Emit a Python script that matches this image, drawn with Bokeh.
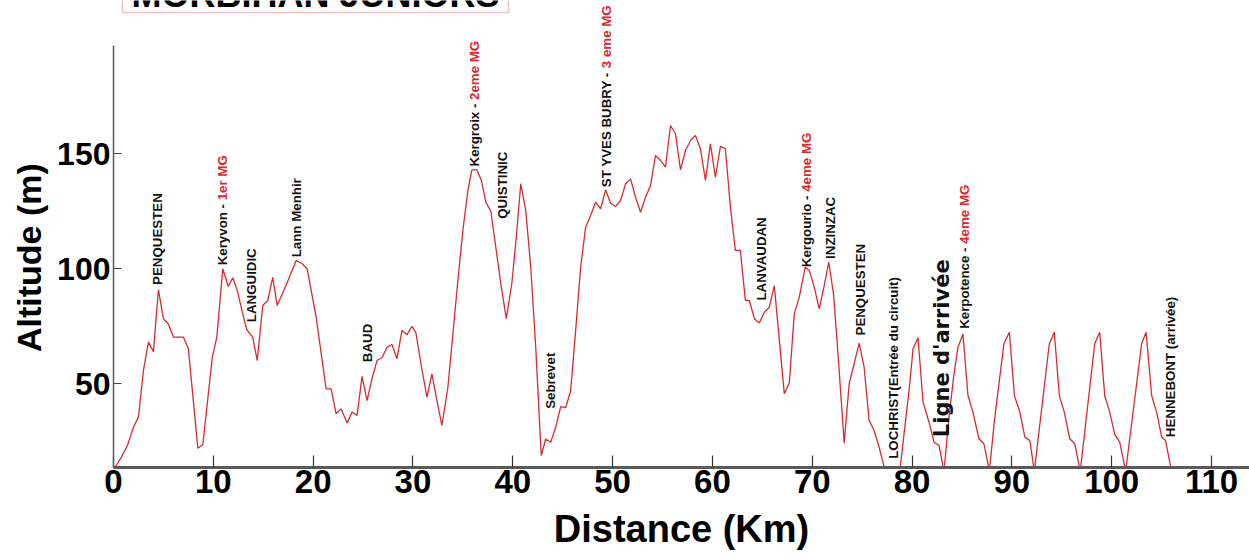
import math
from bokeh.plotting import figure
from bokeh.models import Range1d, FixedTicker, Label, BoxAnnotation
from bokeh.embed import file_html
from bokeh.resources import INLINE

# ---- elevation profile (km, metres) ----
km = [0, 0.7, 1.4, 2.0, 2.5, 3.0, 3.5, 4.0, 4.5, 5.0, 5.5, 6.0, 7.0, 7.5, 8.45, 8.95,
      9.9, 10.35, 10.95, 11.5, 11.95, 12.4, 12.95, 13.35, 13.95, 14.4, 14.95, 15.45,
      15.95, 16.4, 17.35, 18.3, 18.85, 19.4, 20.3, 21.3, 21.8, 22.3, 22.8, 23.4, 23.9,
      24.4, 24.9, 25.4, 25.9, 26.4, 26.9, 27.4, 27.9, 28.4, 28.9, 29.4, 29.9, 30.3,
      30.8, 31.4, 31.9, 32.4, 32.9, 33.5, 34.0, 34.5, 35.0, 35.5, 35.9, 36.4, 36.85,
      37.3, 37.8, 38.3, 38.8, 39.35, 39.9, 40.35, 40.8, 41.3, 41.8, 42.3, 42.85, 43.3,
      43.8, 44.3, 44.8, 45.3, 45.8, 46.3, 46.8, 47.3, 47.8, 48.3, 48.8, 49.3, 49.8,
      50.3, 50.8, 51.3, 51.8, 52.3, 52.8, 53.3, 53.8, 54.3, 54.8, 55.3, 55.8, 56.3,
      56.8, 57.3, 57.8, 58.3, 58.8, 59.3, 59.8, 60.3, 60.8, 61.3, 61.8, 62.3, 62.8,
      63.3, 63.7, 64.2, 64.7, 65.2, 65.7, 66.2, 67.2, 67.7, 68.2, 68.7, 69.3, 69.7,
      70.2, 70.7, 71.2, 71.65, 72.15, 72.65, 73.2, 73.7, 74.2, 74.7, 75.2, 75.7, 76.2,
      76.7, 77.2, 78.0, 78.8, 79.2, 79.7, 80.1, 80.6, 81.1, 81.7, 82.2, 82.7, 83.2,
      83.7, 84.2, 84.6, 85.1, 85.6, 86.1, 86.7, 87.2, 87.75, 88.25, 89.2, 89.75,
      90.25, 90.8, 91.3, 91.8, 92.25, 93.75, 94.25, 94.75, 95.25, 95.8, 96.3, 96.85,
      98.3, 98.8, 99.3, 99.8, 100.3, 100.8, 101.4, 103.0, 103.45, 104.0, 104.5, 105.0,
      105.4, 105.9]
alt = [12.6, 17.4, 23.2, 31.1, 35.5, 55.8, 68.1, 64.0, 90.9, 78.3, 76.0, 70.3, 70.3, 65.2,
       22.0, 23.6, 61.6, 70.3, 100.0, 92.3, 96.1, 90.6, 80.4, 73.5, 70.3, 60.1, 84.0, 86.2,
       96.3, 84.0, 93.5, 103.6, 102.4, 100.0, 79.0, 47.8, 47.8, 37.0, 39.1, 32.9, 37.7,
       36.2, 53.2, 42.7, 52.2, 60.1, 61.3, 65.9, 67.1, 60.9, 73.2, 71.4, 75.0, 72.0,
       58.7, 44.2, 54.3, 42.7, 31.9, 48.5, 71.7, 94.9, 116.7, 134.0, 143.0, 143.0, 138.5,
       129.0, 125.0, 109.4, 93.5, 78.3, 93.5, 113.7, 137.0, 125.3, 100.7, 65.9, 18.8, 26.0,
       24.6, 31.1, 40.1, 39.6, 47.1, 73.2, 100.7, 118.1, 123.2, 129.0, 126.1, 134.3, 128.5,
       127.1, 129.7, 137.0, 139.1, 131.1, 124.6, 131.1, 136.2, 149.3, 147.1, 144.2, 162.3,
       158.7, 143.0, 151.4, 155.8, 158.0, 152.2, 138.4, 154.3, 139.8, 153.2, 152.2, 126.8,
       108.0, 108.0, 86.2, 86.2, 78.3, 76.4, 81.1, 83.3, 92.7, 45.7, 50.3, 80.4, 87.7,
       100.7, 99.3, 92.0, 82.6, 92.7, 102.9, 88.4, 58.7, 24.2, 50.0, 58.7, 67.7, 57.2,
       34.0, 29.7, 22.4, 14.0, 11.0, 13.0, 28.3, 47.1, 65.2, 70.0, 42.0, 33.3, 24.6,
       23.2, 12.0, 35.5, 54.3, 65.9, 71.7, 44.9, 37.7, 26.1, 23.9, 12.0, 34.0, 67.4,
       72.4, 44.9, 37.7, 26.8, 25.3, 12.0, 67.4, 72.4, 44.9, 37.7, 26.1, 23.9, 12.0,
       67.4, 72.4, 44.9, 37.7, 28.0, 24.6, 12.0, 67.4, 72.4, 44.9, 37.7, 27.0, 25.3, 14.0]

x_ticks = [0, 10, 20, 30, 40, 50, 60, 70, 80, 90, 100, 110]
y_ticks = [50, 100, 150]
y_axis_top = 197

# ---- place names (black part, red part, km, altitude where the text starts) ----
place_black = ["PENQUESTEN", "Keryvon - ", "LANGUIDIC", "Lann Menhir", "BAUD",
               "Kergroix - ", "QUISTINIC", "Sebrevet", "ST YVES BUBRY - ", "LANVAUDAN",
               "Kergourio - ", "INZINZAC", "PENQUESTEN", "LOCHRIST(Entrée du circuit)",
               "Kerpotence - ", "HENNEBONT (arrivée)"]
place_red = ["", "1er MG", "", "", "", "2eme MG", "", "", "3 eme MG", "",
             "4eme MG", "", "", "", "4eme MG", ""]
place_km = [4.45, 10.95, 13.85, 18.3, 25.45, 36.2, 39.0, 43.8, 49.35, 64.95,
            69.45, 71.85, 74.8, 78.1, 85.3, 105.9]
place_alt = [93.0, 101.5, 76.8, 105.0, 59.4, 144.5, 121.7, 39.1, 135.5, 86.2,
             100.7, 104.3, 71.0, 17.4, 73.9, 26.8]

finish_text = "Ligne d'arrivée"
finish_km = 82.95
finish_alt = 26.8

title_text = "MORBIHAN JUNIORS"

# ---- layout ----
W, H = 1249, 559
BL, BR, BT, BB = 113, 0, 0, 92
PX_PER_KM = 9.982
PX_PER_M = 2.3
frame_w = W - BL - BR
frame_h = H - BT - BB
X0 = 0
X1 = X0 + frame_w / PX_PER_KM
Y0 = 13.6
Y1 = Y0 + frame_h / PX_PER_M

RED = "#e0262c"
LINE_RED = "#d92a2f"
FONT = "Liberation Sans"
NBSP = "\u00a0"

p = figure(width=W, height=H, x_range=Range1d(X0, X1), y_range=Range1d(Y0, Y1),
           output_backend="svg", toolbar_location=None,
           min_border_left=BL, min_border_right=BR, min_border_top=BT, min_border_bottom=BB)
p.outline_line_color = None
p.grid.visible = False
p.background_fill_color = "white"
p.border_fill_color = "white"

p.line(km, alt, line_color=LINE_RED, line_width=1.3)

# x axis
p.xaxis.ticker = FixedTicker(ticks=x_ticks, minor_ticks=[])
p.xaxis.axis_line_width = 3
p.xaxis.axis_line_color = "#5a5a5a"
p.xaxis.major_tick_in = 12
p.xaxis.major_tick_out = 0
p.xaxis.major_tick_line_color = "#333333"
p.xaxis.major_tick_line_width = 1.2
p.xaxis.minor_tick_line_color = None
p.xaxis.major_label_text_font = FONT
p.xaxis.major_label_text_font_style = "bold"
p.xaxis.major_label_text_font_size = "33px"
p.xaxis.major_label_text_color = "black"
p.xaxis.major_label_standoff = 2
p.xaxis.axis_label = "Distance (Km)"
p.xaxis.axis_label_text_font = FONT
p.xaxis.axis_label_text_font_style = "bold"
p.xaxis.axis_label_text_font_size = "38px"
p.xaxis.axis_label_text_color = "black"
p.xaxis.axis_label_standoff = 12

# y axis
p.yaxis.ticker = FixedTicker(ticks=y_ticks, minor_ticks=[])
p.yaxis.bounds = (Y0, y_axis_top)
p.yaxis.axis_line_width = 1.5
p.yaxis.axis_line_color = "#5a5a5a"
p.yaxis.major_tick_in = 8
p.yaxis.major_tick_out = 0
p.yaxis.major_tick_line_color = "#444444"
p.yaxis.minor_tick_line_color = None
p.yaxis.major_label_text_font = FONT
p.yaxis.major_label_text_font_style = "bold"
p.yaxis.major_label_text_font_size = "32px"
p.yaxis.major_label_text_color = "black"
p.yaxis.major_label_standoff = 3
# trailing no-break spaces move the centred label down, next to the drawn axis
p.yaxis.axis_label = "Altitude (m)" + NBSP * 5
p.yaxis.axis_label_text_font = FONT
p.yaxis.axis_label_text_font_style = "bold"
p.yaxis.axis_label_text_font_size = "34px"
p.yaxis.axis_label_text_color = "black"
p.yaxis.axis_label_standoff = 6

# Helvetica-Bold / Liberation Sans Bold advance widths (per 1000 em)
HB = dict(zip("abcdefghijklmnopqrstuvwxyz",
              [556, 611, 556, 611, 556, 333, 611, 611, 278, 278, 556, 278, 889, 611, 611,
               611, 611, 389, 556, 333, 611, 556, 778, 556, 556, 500]))
HB.update(zip("ABCDEFGHIJKLMNOPQRSTUVWXYZ",
              [722, 722, 722, 722, 667, 611, 778, 722, 278, 556, 722, 611, 833, 722, 778,
               667, 778, 722, 667, 611, 722, 667, 944, 667, 667, 611]))
HB.update({c: 556 for c in "0123456789"})
HB.update({" ": 278, "-": 333, "(": 333, ")": 333, "'": 238, "é": 556})

LABEL_PX = 13.3


def text_width(s, size):
    return sum(HB.get(c, 556) for c in s) * size / 1000.0


def add_vlabel(x, y, txt, color, font=FONT, size=LABEL_PX):
    p.add_layout(Label(x=x, y=y, text=txt, angle=math.pi / 2,
                       text_align="left", text_baseline="middle", text_color=color,
                       text_font=font, text_font_style="bold",
                       text_font_size=f"{size}px"))


for b, r, xk, ya in zip(place_black, place_red, place_km, place_alt):
    add_vlabel(xk, ya, b, "#111111")
    if r:
        add_vlabel(xk, ya + text_width(b, LABEL_PX) / PX_PER_M, r, RED)

add_vlabel(finish_km, finish_alt, finish_text, "#111111", font="DejaVu Sans", size=21)

# title box, mostly above the visible area as in the picture
box_left_px, box_right_px, box_bottom_px = 9, 395, 12   # from the frame's left / top
title_box = BoxAnnotation(left=X0 + box_left_px / PX_PER_KM,
                          right=X0 + box_right_px / PX_PER_KM,
                          bottom=Y1 - box_bottom_px / PX_PER_M,
                          top=Y1 + 20 / PX_PER_M,
                          fill_color=None, line_color="#cf2f36", line_width=1.6)
p.add_layout(title_box)
title = Label(x=box_left_px + 9, y=frame_h - 14, x_units="screen", y_units="screen",
              text=title_text, text_font=FONT, text_font_style="bold",
              text_font_size="36px", text_color="black", text_baseline="bottom")
p.add_layout(title)

open("out.html", "w").write(file_html(p, INLINE))
